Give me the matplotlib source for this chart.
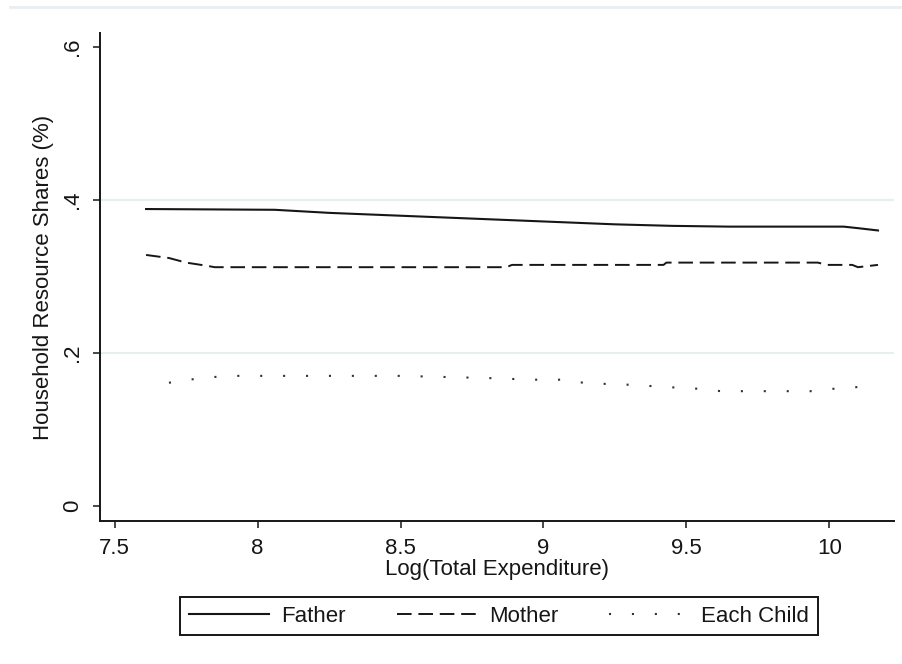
import matplotlib
matplotlib.use("Agg")
import matplotlib.pyplot as plt
from matplotlib.lines import Line2D

# values
father_x = [7.61, 8.06, 8.25, 8.45, 8.65, 8.85, 9.05, 9.25, 9.45, 9.65, 9.85, 10.05, 10.10, 10.17]
father_y = [0.388, 0.387, 0.383, 0.380, 0.377, 0.374, 0.371, 0.368, 0.366, 0.365, 0.365, 0.365, 0.363, 0.360]

mother_x = [7.61, 7.69, 7.75, 7.82, 7.85, 8.87, 8.89, 9.42, 9.43, 9.96, 9.99, 10.08, 10.10, 10.17]
mother_y = [0.328, 0.324, 0.318, 0.314, 0.312, 0.312, 0.315, 0.315, 0.318, 0.318, 0.315, 0.315, 0.312, 0.315]

child_x = [7.69, 7.76, 7.83, 7.90, 8.15, 8.50, 8.82, 8.96, 9.06, 9.11, 9.18, 9.33, 9.40, 9.55, 9.62,
           9.94, 10.01, 10.09, 10.14, 10.17]
child_y = [0.161, 0.165, 0.168, 0.170, 0.170, 0.170, 0.167, 0.165, 0.165, 0.162, 0.160, 0.158, 0.156, 0.153,
           0.150, 0.150, 0.153, 0.155, 0.158, 0.158]

y_ticks = [0, 0.2, 0.4, 0.6]
y_tick_labels = ["0", ".2", ".4", ".6"]
x_ticks = [7.5, 8, 8.5, 9, 9.5, 10]
x_tick_labels = ["7.5", "8", "8.5", "9", "9.5", "10"]

plt.rcParams['font.family'] = ['Liberation Sans', 'DejaVu Sans']
ink = "#161616"
fs = 16

fig = plt.figure(figsize=(9.02, 6.64), dpi=100)
ax = fig.add_axes([0.1109, 0.2154, 0.8802, 0.7349])

# grid
for yv in [0.2, 0.4]:
    ax.axhline(yv, color="#e6f0f0", lw=1.5, zorder=0)

ax.plot(father_x, father_y, color=ink, lw=1.5, label="Father")
ax.plot(mother_x, mother_y, color=ink, lw=1.4, linestyle=(0, (7.5, 3.5)), label="Mother")
ax.plot(child_x, child_y, color="#333333", lw=1.5, linestyle=(0, (1, 10)), label="Each Child")

ax.set_xlim(7.449, 10.226)
ax.set_ylim(-0.0196, 0.618)

ax.set_xticks(x_ticks)
ax.set_xticklabels(x_tick_labels)
ax.set_yticks(y_ticks)
ax.set_yticklabels(y_tick_labels, rotation=90, va="center")

ax.tick_params(axis="both", length=5, width=1.1, color=ink, labelsize=fs, labelcolor=ink)
ax.tick_params(axis="x", pad=7)
ax.tick_params(axis="y", pad=7)

for side in ["top", "right"]:
    ax.spines[side].set_visible(False)
for side in ["left", "bottom"]:
    ax.spines[side].set_linewidth(1.4)
    ax.spines[side].set_color(ink)

ax.set_xlabel("Log(Total Expenditure)", fontsize=fs, color=ink, labelpad=0)
ax.set_ylabel("Household Resource Shares (%)", fontsize=fs, color=ink, labelpad=6)

# legend box below the axes
leg = fig.legend(loc="center", bbox_to_anchor=(499 / 902, 1 - 616 / 664), ncol=3, fontsize=fs,
                 handlelength=3.6, handletextpad=0.55, columnspacing=2.3, fancybox=False,
                 borderpad=0.4, framealpha=1)
leg.get_frame().set_edgecolor(ink)
leg.get_frame().set_linewidth(1.4)
for t in leg.get_texts():
    t.set_color(ink)

# faint frame line at the top of the graph region
fig.add_artist(Line2D([0.011, 1.0], [0.989, 0.989], transform=fig.transFigure, color="#e8eef4", lw=2))

fig.savefig("out.png", dpi=100)
